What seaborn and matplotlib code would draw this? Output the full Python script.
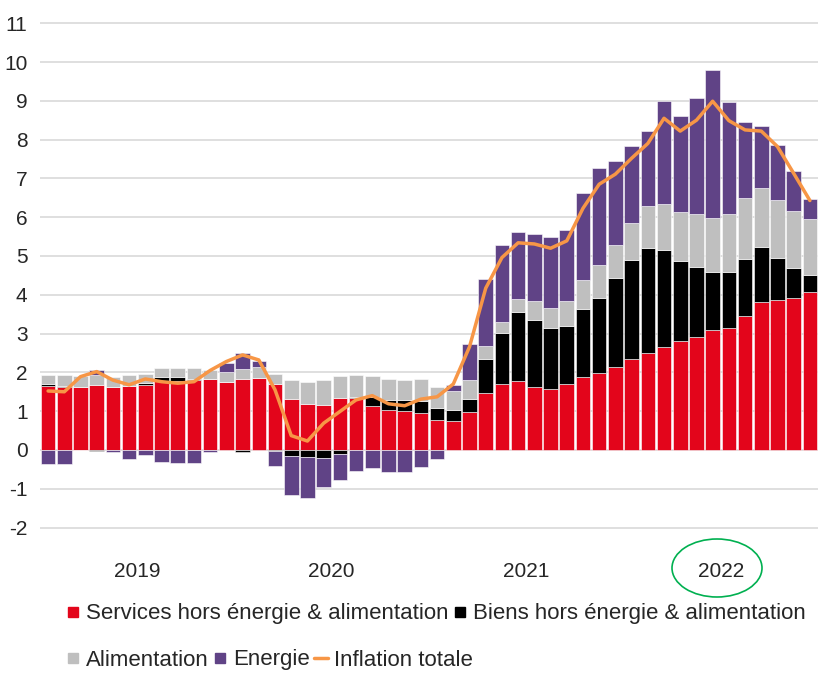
import numpy as np
import pandas as pd
import seaborn as sns
import matplotlib.pyplot as plt
from matplotlib.lines import Line2D
from matplotlib.patches import Ellipse

# monthly contributions, Jan 2019 -> Dec 2022
months = pd.date_range("2019-01-01", "2022-12-01", freq="MS")
years = ["2019", "2020", "2021", "2022"]

services = [1.65, 1.63, 1.63, 1.68, 1.62, 1.66, 1.67, 1.79, 1.79, 1.80, 1.82, 1.76,
            1.83, 1.86, 1.69, 1.31, 1.19, 1.15, 1.34, 1.33, 1.13, 1.03, 1.01, 0.95,
            0.77, 0.75, 0.98, 1.46, 1.70, 1.78, 1.62, 1.57, 1.69, 1.89, 1.98, 2.13,
            2.35, 2.51, 2.65, 2.81, 2.92, 3.08, 3.15, 3.45, 3.81, 3.87, 3.92, 4.06]
biens = [0.05, 0.02, 0.00, -0.02, 0.00, 0.00, 0.05, 0.09, 0.09, 0.04, 0.00, 0.00,
         -0.06, 0.00, -0.02, -0.15, -0.18, -0.20, -0.10, 0.04, 0.24, 0.26, 0.27, 0.31,
         0.32, 0.28, 0.33, 0.89, 1.32, 1.77, 1.74, 1.58, 1.51, 1.75, 1.94, 2.31,
         2.55, 2.70, 2.50, 2.05, 1.80, 1.51, 1.45, 1.48, 1.41, 1.07, 0.76, 0.44]
alimentation = [0.22, 0.27, 0.27, 0.26, 0.25, 0.28, 0.24, 0.22, 0.23, 0.27, 0.25, 0.24,
                0.26, 0.27, 0.27, 0.50, 0.57, 0.65, 0.56, 0.55, 0.53, 0.54, 0.53, 0.56,
                0.54, 0.50, 0.50, 0.34, 0.29, 0.34, 0.48, 0.52, 0.64, 0.75, 0.86, 0.84,
                0.95, 1.07, 1.19, 1.27, 1.37, 1.39, 1.48, 1.56, 1.54, 1.51, 1.49, 1.45]
energie = [-0.36, -0.37, -0.01, 0.11, -0.06, -0.24, -0.14, -0.32, -0.34, -0.33, -0.06, 0.23,
           0.40, 0.16, -0.40, -1.02, -1.07, -0.76, -0.67, -0.54, -0.47, -0.57, -0.58, -0.45,
           -0.24, 0.14, 0.91, 1.72, 1.98, 1.74, 1.72, 1.83, 1.83, 2.23, 2.49, 2.16,
           1.99, 1.93, 2.65, 2.47, 2.97, 3.82, 2.89, 1.97, 1.58, 1.41, 1.01, 0.52]
inflation = [1.52, 1.50, 1.89, 2.02, 1.80, 1.68, 1.83, 1.76, 1.72, 1.76, 2.05, 2.28,
             2.45, 2.32, 1.55, 0.37, 0.23, 0.69, 0.99, 1.29, 1.40, 1.19, 1.14, 1.31,
             1.37, 1.70, 2.66, 4.17, 4.96, 5.34, 5.31, 5.20, 5.39, 6.23, 6.85, 7.11,
             7.52, 7.90, 8.55, 8.22, 8.50, 8.99, 8.49, 8.25, 8.22, 7.82, 7.13, 6.43]

labels = ["Services hors énergie & alimentation", "Biens hors énergie & alimentation",
          "Alimentation", "Energie", "Inflation totale"]
colors = ["#E3051B", "#000000", "#BFBFBF", "#604386", "#F79646"]

sns.set_style("white")
plt.rcParams["font.family"] = ["Liberation Sans", "DejaVu Sans"]
plt.rcParams["text.color"] = "#262626"
plt.rcParams["axes.unicode_minus"] = False

fig = plt.figure(figsize=(8.27, 6.78), dpi=100)
ax = fig.add_axes([40 / 827, 1 - 545 / 678, 778 / 827, 533.4 / 678])

x = np.arange(len(months))
pos = np.zeros(len(x))
neg = np.zeros(len(x))
for vals, c in zip([services, biens, alimentation, energie], colors[:4]):
    v = np.array(vals)
    bottom = np.where(v >= 0, pos, neg)
    ax.bar(x, v, bottom=bottom, width=0.9, color=c, edgecolor="white",
           linewidth=0.4, zorder=2)
    pos += np.clip(v, 0, None)
    neg += np.clip(v, None, 0)

df = pd.DataFrame({"x": x, "inflation": inflation})
sns.lineplot(data=df, x="x", y="inflation", color=colors[4], lw=2.5, ax=ax, zorder=3)

ax.set_xlim(-0.5, 47.5)
ax.set_ylim(-2.45, 11.3)
ax.set_yticks(range(-2, 12))
ax.grid(axis="y", color="#D9D9D9", lw=1.2, zorder=0)
ax.grid(axis="x", visible=False)
ax.tick_params(axis="y", length=0, pad=9, labelsize=15)
for s in ax.spines.values():
    s.set_visible(False)

ax.set_xticks([-0.5, 11.5, 23.5, 35.5, 47.5])
ax.set_xticklabels([])
ax.tick_params(axis="x", which="major", length=6, width=1, color="#8C8C8C", direction="out")
ax.set_xticks([5.5, 17.5, 29.5, 41.5], minor=True)
ax.set_xticklabels(years, minor=True)
ax.tick_params(axis="x", which="minor", length=0, pad=12, labelsize=15)
ax.set_xlabel("")
ax.set_ylabel("")

# circle around 2022
fig.patches.append(Ellipse((717 / 827, 1 - 568 / 678), 90 / 827, 58 / 678,
                           transform=fig.transFigure, fill=False,
                           edgecolor="#00B050", lw=1.2))

def sq(c):
    return Line2D([], [], marker="s", ls="", color=c, markersize=7)

kw = dict(frameon=False, fontsize=16, handlelength=0.6, handletextpad=0.3,
          columnspacing=0.2, borderaxespad=0, borderpad=0)
fig.legend([sq(colors[0]), sq(colors[1])], labels[:2], loc="center left",
           bbox_to_anchor=(66 / 827, 1 - 614 / 678), ncol=2, **kw)
fig.legend([sq(colors[2]), sq(colors[3]), Line2D([], [], color=colors[4], lw=2.5)],
           labels[2:], loc="center left", bbox_to_anchor=(66 / 827, 1 - 660 / 678),
           ncol=3, **kw)

fig.savefig("out.png", dpi=100)
